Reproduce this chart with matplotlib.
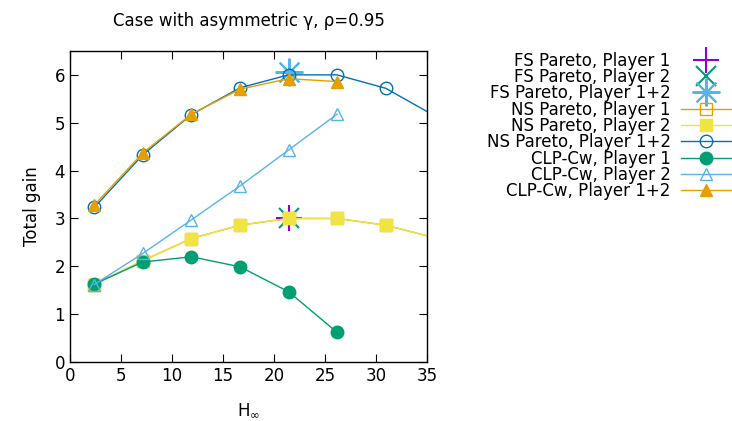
import matplotlib
matplotlib.use("Agg")
import matplotlib.pyplot as plt

h_inf = [2.38, 7.14, 11.9, 16.67, 21.43, 26.19, 30.95, 35.71]
h_clp = h_inf[:6]

ns_p1 = [1.62, 2.12, 2.58, 2.86, 3.0, 3.0, 2.86, 2.6]
ns_p2 = [1.62, 2.12, 2.58, 2.86, 3.0, 3.0, 2.86, 2.6]
ns_p12 = [3.23, 4.33, 5.17, 5.73, 6.0, 6.0, 5.72, 5.15]

clp_p1 = [1.63, 2.09, 2.20, 1.99, 1.47, 0.62]
clp_p2 = [1.62, 2.27, 2.97, 3.68, 4.43, 5.18]
clp_p12 = [3.28, 4.37, 5.18, 5.70, 5.92, 5.86]

fs_x = [21.43]
fs_p1 = [3.0]
fs_p2 = [3.0]
fs_p12 = [6.05]

fig = plt.figure(figsize=(7.32, 4.21), dpi=100)
ax = fig.add_axes([0.0956, 0.140, 0.4877, 0.739])

ax.plot(fs_x, fs_p1, ls='none', marker='+', ms=19, mew=1.5, color='#9400d3', label='FS Pareto, Player 1')
ax.plot(fs_x, fs_p2, ls='none', marker='x', ms=15, mew=1.5, color='#009e73', label='FS Pareto, Player 2')
ax.plot(fs_x, fs_p12, ls='none', marker=(8, 2, 0), ms=20, mew=1.5, color='#56b4e9', label='FS Pareto, Player 1+2')
ax.plot(h_inf, ns_p1, lw=1, marker='s', ms=9, mfc='none', mew=1, color='#e69f00', label='NS Pareto, Player 1')
ax.plot(h_inf, ns_p2, lw=1, marker='s', ms=9, color='#f0e442', label='NS Pareto, Player 2')
ax.plot(h_inf, ns_p12, lw=1, marker='o', ms=9, mfc='none', mew=1, color='#0072b2', label='NS Pareto, Player 1+2')
ax.plot(h_clp, clp_p1, lw=1, marker='o', ms=9, color='#009e73', label='CLP-Cw, Player 1')
ax.plot(h_clp, clp_p2, lw=1, marker='^', ms=9, mfc='none', mew=1, color='#56b4e9', label='CLP-Cw, Player 2')
ax.plot(h_clp, clp_p12, lw=1, marker='^', ms=9, color='#e69f00', label='CLP-Cw, Player 1+2')

ax.set_xlim(0, 35)
ax.set_ylim(0, 6.5)
ax.set_xticks(range(0, 36, 5))
ax.set_yticks(range(0, 7))
ax.tick_params(direction='in', top=True, right=True, length=6, labelsize=12)
for s in ax.spines.values():
    s.set_linewidth(1)

ax.set_title('Case with asymmetric γ, ρ=0.95', fontsize=12, pad=18)
ax.set_xlabel('H$_\\infty$', fontsize=12, labelpad=12)
ax.set_ylabel('Total gain', fontsize=12, labelpad=10)

fig.legend(loc='upper right', bbox_to_anchor=(1.014, 0.905), frameon=False, markerfirst=False,
           fontsize=12, handlelength=3.0, labelspacing=-0.1, borderpad=0.2, handletextpad=0.6)

fig.savefig('out.png', dpi=100)
